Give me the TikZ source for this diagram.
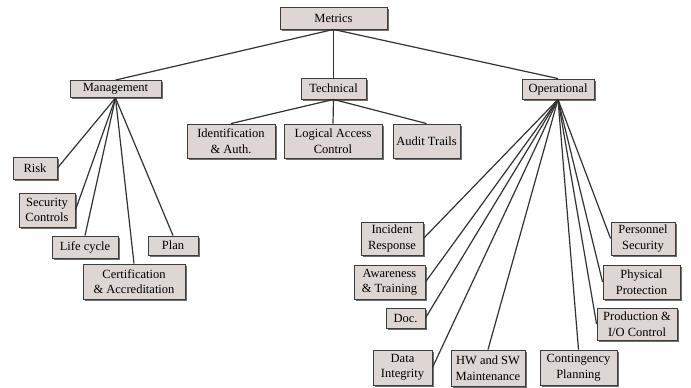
\documentclass[tikz,border=0pt]{standalone}
\usepackage{fontspec}
\setmainfont{Liberation Serif}
\newfontfamily\tms{Liberation Serif}
\usetikzlibrary{shadows}
\definecolor{boxfill}{RGB}{221,214,211}
\definecolor{boxline}{RGB}{60,60,60}
\definecolor{wire}{RGB}{50,50,50}
\begin{document}
\begin{tikzpicture}[x=1pt,y=-1pt,
  box/.style={draw=boxline, line width=0.9pt, fill=boxfill, inner sep=0pt, align=center,
    font=\tms\fontsize{12.5}{15.5}\selectfont,
    drop shadow={shadow xshift=1.6pt, shadow yshift=-1.6pt, fill=black!70, opacity=0.8}},
  wire/.style={draw=wire, line width=1.2pt}]
\useasboundingbox (0,0) rectangle (691,388);
\newcommand{\bx}[6]{\node[box, minimum width=#4pt, minimum height=#5pt] (#1) at (#2,#3) {#6};}
\bx{metrics}{333.5}{18}{107}{22}{Metrics}
\bx{tech}{333.5}{88.5}{65}{21}{Technical}
\bx{mgmt}{115.5}{89}{91}{17}{Management}
\bx{oper}{558}{89}{72}{20}{Operational}
\bx{risk}{35}{168}{44}{22}{Risk}
\bx{sec}{47}{210}{56}{34}{Security\\Controls}
\bx{life}{85}{247}{66}{22}{Life cycle}
\bx{plan}{173}{245.5}{50}{19}{Plan}
\bx{cert}{134}{281.5}{102}{35}{Certification\\\& Accreditation}
\bx{ident}{231}{141}{88}{34}{Identification\\\& Auth.}
\bx{logic}{333}{141}{98}{34}{Logical Access\\Control}
\bx{audit}{426.5}{141}{67}{34}{Audit Trails}
\bx{incid}{392}{238.5}{62}{33}{Incident\\Response}
\bx{aware}{389.5}{282}{71}{34}{Awareness\\\& Training}
\bx{doc}{405.5}{318}{39}{20}{Doc.}
\bx{data}{402.5}{367.5}{59}{35}{Data\\Integrity}
\bx{hw}{488}{368}{74}{36}{HW and SW\\Maintenance}
\bx{cont}{578.5}{367.5}{77}{35}{Contingency\\Planning}
\bx{pers}{643}{238.5}{64}{33}{Personnel\\Security}
\bx{phys}{641.5}{282}{77}{34}{Physical\\Protection}
\bx{prod}{637}{324}{80}{32}{Production \&\\I/O Control}
\draw[wire] (metrics.south) -- (mgmt.north);
\draw[wire] (metrics.south) -- (tech.north);
\draw[wire] (metrics.south) -- (oper.north);
\draw[wire] (mgmt.south) -- (risk.east);
\draw[wire] (mgmt.south) -- (sec.east);
\draw[wire] (mgmt.south) -- (life.north);
\draw[wire] (mgmt.south) -- (cert.north);
\draw[wire] (mgmt.south) -- (plan.north);
\draw[wire] (tech.south) -- (ident.north);
\draw[wire] (tech.south) -- (logic.north);
\draw[wire] (tech.south) -- (audit.north);
\draw[wire] (oper.south) -- (incid.east);
\draw[wire] (oper.south) -- (aware.east);
\draw[wire] (oper.south) -- (doc.east);
\draw[wire] (oper.south) -- (data.east);
\draw[wire] (oper.south) -- (hw.north);
\draw[wire] (oper.south) -- (cont.north);
\draw[wire] (oper.south) -- (prod.west);
\draw[wire] (oper.south) -- (phys.west);
\draw[wire] (oper.south) -- (pers.west);
\end{tikzpicture}
\end{document}
